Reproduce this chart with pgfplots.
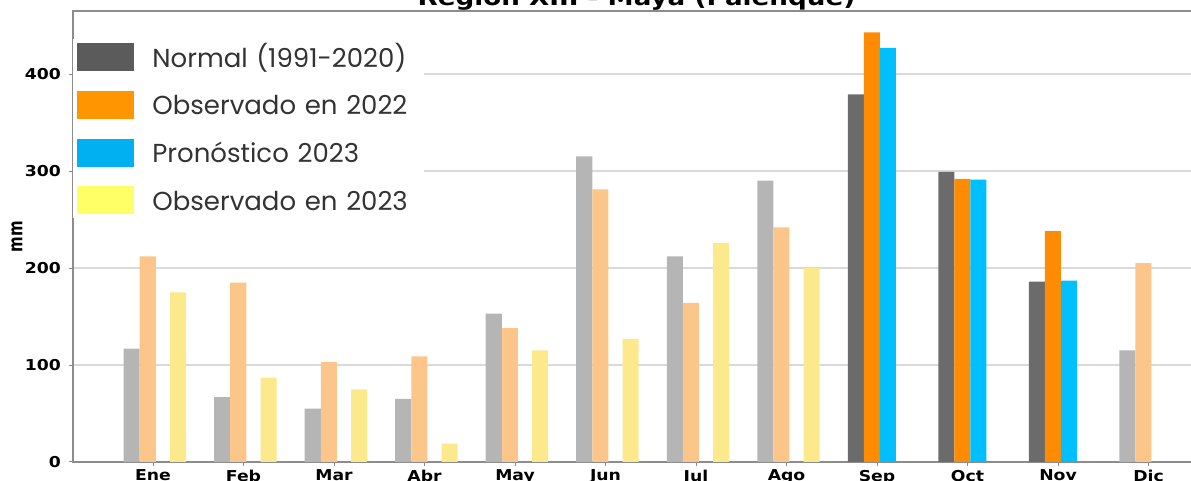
\documentclass[border=0pt]{standalone}
\usepackage{pgfplots}
\pgfplotsset{compat=1.18}
\usepackage{fontspec}
\setmainfont{DejaVu Sans}
\newfontfamily\legendfont{Poppins}
\definecolor{grayS}{HTML}{6B6B6B}
\definecolor{grayF}{HTML}{B5B5B5}
\definecolor{orangeS}{HTML}{FF8C00}
\definecolor{orangeF}{HTML}{FCC68A}
\definecolor{blueS}{HTML}{00BFFF}
\definecolor{yellowF}{HTML}{FBE98C}
\definecolor{legGray}{HTML}{5B5B5B}
\definecolor{legOrange}{HTML}{FF9500}
\definecolor{legBlue}{HTML}{00B0F0}
\definecolor{legYellow}{HTML}{FFFF66}
\definecolor{gridc}{HTML}{DADADA}
\definecolor{framec}{HTML}{8C8C8C}
\pgfplotsset{swatch/.style={legend image code/.code={%
  \path[fill=#1, draw=none] (0pt,-7pt) rectangle (28.5pt,7pt);
  \path[draw=none, fill=none] (0pt,-7pt) rectangle (37.5pt,7pt);}}}
\begin{document}
\begin{tikzpicture}
\begin{axis}[
  scale only axis,
  width=578.5pt, height=225.5pt,
  xmin=-0.884, xmax=11.9,
  ymin=0, ymax=465,
  clip=false,
  xtick={0,1,2,3,4,5,6,7,8,9,10,11},
  xticklabels={Ene,Feb,Mar,Abr,May,Jun,Jul,Ago,Sep,Oct,Nov,Dic},
  ytick={0,100,200,300,400},
  xtick pos=left, ytick pos=left,
  tick align=outside,
  major tick length=2pt,
  tick style={color=framec, line width=0.5pt},
  axis line style={color=framec, line width=0.7pt},
  ymajorgrids,
  grid style={color=gridc, line width=0.6pt},
  /pgf/number format/assume math mode=true,
  ticklabel style={font=\fontsize{7.5}{9}\selectfont\bfseries, xscale=1.15},
  xticklabel style={yshift=1.5pt},
  ylabel={\bfseries mm},
  ylabel style={font=\fontsize{7.5}{9}\selectfont, at={(axis description cs:0,0.5)}, anchor=center, yshift=28pt, yscale=1.3},
  legend style={at={(axis description cs:0,1)}, anchor=north west, yshift=-14pt,
     draw=none, fill=white, inner sep=2pt, row sep=9.85pt,
     font=\legendfont\fontsize{13}{15}\selectfont,
     nodes={inner sep=0pt, text height=11.9pt, text depth=2.1pt, text=black!80, text width=134pt}},
  legend cell align=left,
]
% faded normal
\addplot[ybar, bar width=0.177, bar shift=-0.235, fill=grayF, draw=none, forget plot]
  coordinates {(0,117) (1,67) (2,55) (3,65) (4,153) (5,315) (6,212) (7,290) (11,115)};
% solid normal
\addplot[ybar, bar width=0.177, bar shift=-0.235, fill=grayS, draw=none, forget plot]
  coordinates {(8,379) (9,299) (10,186)};
% faded 2022
\addplot[ybar, bar width=0.177, bar shift=-0.058, fill=orangeF, draw=none, forget plot]
  coordinates {(0,212) (1,185) (2,103) (3,109) (4,138) (5,281) (6,164) (7,242) (11,205)};
% solid 2022
\addplot[ybar, bar width=0.177, bar shift=-0.058, fill=orangeS, draw=none, forget plot]
  coordinates {(8,443) (9,292) (10,238)};
% forecast 2023
\addplot[ybar, bar width=0.177, bar shift=0.12, fill=blueS, draw=none, forget plot]
  coordinates {(8,427) (9,291) (10,187)};
% observed 2023
\addplot[ybar, bar width=0.177, bar shift=0.277, fill=yellowF, draw=none, forget plot]
  coordinates {(0,175) (1,87) (2,75) (3,19) (4,115) (5,127) (6,226) (7,200)};
\addlegendimage{swatch=legGray}
\addlegendentry{Normal (1991-2020)}
\addlegendimage{swatch=legOrange}
\addlegendentry{Observado en 2022}
\addlegendimage{swatch=legBlue}
\addlegendentry{Pronóstico 2023}
\addlegendimage{swatch=legYellow}
\addlegendentry{Observado en 2023}
\coordinate (O) at (rel axis cs:0,0);
\node[anchor=base, font=\fontsize{11.2}{13}\selectfont\bfseries, xscale=1.17] at (rel axis cs:0.487,1) [yshift=2.5pt] {Región XIII - Maya (Palenque)};
\end{axis}
\pgfresetboundingbox
\path[use as bounding box] (O) ++(-36.5pt,-9.5pt) rectangle ++(595.5pt,240.5pt);
\end{tikzpicture}
\end{document}
